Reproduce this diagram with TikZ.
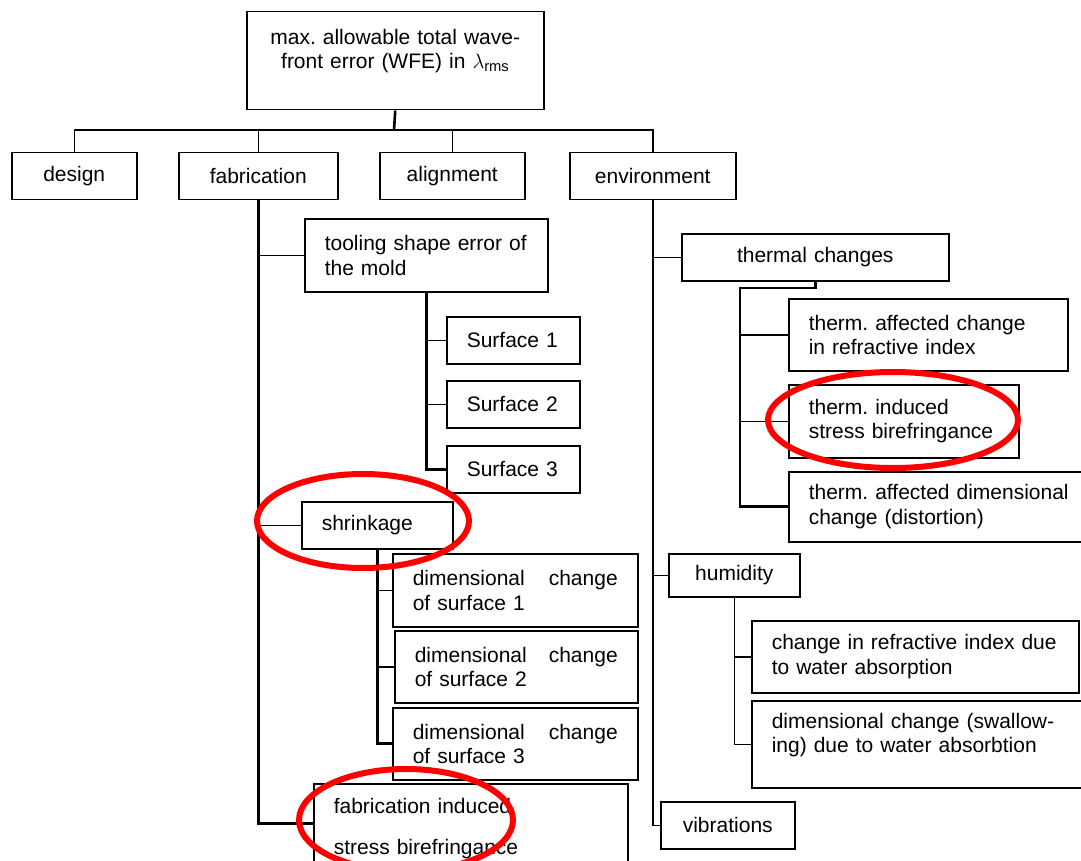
\documentclass[tikz,border=0pt]{standalone}
\usepackage{fontspec}
\setmainfont{Liberation Sans}
\frenchspacing
\begin{document}
\begin{tikzpicture}[x=1pt, y=-1pt,
    box/.style={draw, line width=1.5pt, anchor=north west, inner ysep=0pt, inner xsep=20pt,
        align=left, font=\fontsize{21pt}{24.5pt}\selectfont},
    cbox/.style={box, align=center},
    link/.style={line width=1.5pt},
    trunk/.style={line width=2.6pt},
    circled/.style={red, line width=6pt}]
    \useasboundingbox (0,0) rectangle (1081,861);
    \clip (0,0) rectangle (1081,861);

    % top level
    \node[cbox, minimum width=297pt, minimum height=98pt, text width=257pt, text depth=48pt] (root) at (246,11)
        {max. allowable total wave-\\front error (WFE) in $\lambda$\textsubscript{rms}};
    \node[cbox, minimum width=125pt, minimum height=47pt, text width=85pt] (design) at (11,152) {design};
    \node[cbox, minimum width=159pt, minimum height=47pt, text width=119pt] (fab) at (178,152) {fabrication};
    \node[cbox, minimum width=145pt, minimum height=47pt, text width=105pt] (align) at (379,152) {alignment};
    \node[cbox, minimum width=166pt, minimum height=47pt, text width=126pt] (env) at (569,152) {environment};
    \coordinate (bus) at (394,130);

    % fabrication branch
    \node[box, minimum width=243pt, minimum height=73pt, text width=203pt] (tool) at (304,218)
        {tooling shape error of\\the mold};
    \node[box, minimum width=133pt, minimum height=47pt, text width=93pt] (surf1) at (446,316) {Surface 1};
    \node[box, minimum width=133pt, minimum height=47pt, text width=93pt] (surf2) at (446,380) {Surface 2};
    \node[box, minimum width=133pt, minimum height=47pt, text width=93pt] (surf3) at (446,445) {Surface 3};
    \node[box, minimum width=151pt, minimum height=47pt, text width=111pt] (shrink) at (301,501) {shrinkage};
    \node[box, minimum width=245pt, minimum height=73pt, text width=205pt] (dim1) at (392,553)
        {dimensional\hfill change\\of surface 1};
    \node[box, minimum width=243pt, minimum height=72pt, text width=203pt] (dim2) at (394,630)
        {dimensional\hfill change\\of surface 2};
    \node[box, minimum width=245pt, minimum height=72pt, text width=205pt] (dim3) at (392,707)
        {dimensional\hfill change\\of surface 3};
    \node[box, minimum width=314pt, minimum height=80pt, text width=274pt, text height=25pt] (fabind) at (313,783)
        {fabrication induced\\[17pt]stress birefringance};

    % environment branch
    \node[cbox, minimum width=267pt, minimum height=47pt, text width=227pt] (therm) at (681,233) {thermal changes};
    \node[box, minimum width=279pt, minimum height=72pt, text width=239pt] (therm1) at (788,298)
        {therm. affected change\\in refractive index};
    \node[box, minimum width=230pt, minimum height=73pt, text width=190pt] (therm2) at (788,384)
        {therm. induced\\stress birefringance};
    \node[box, minimum width=320pt, minimum height=70pt, text width=280pt] (therm3) at (788,471)
        {therm. affected dimensional\\change (distortion)};
    \coordinate (tk) at (740,288);
    \node[cbox, minimum width=131pt, minimum height=43pt, text width=91pt] (hum) at (668,553) {humidity};
    \node[box, minimum width=327pt, minimum height=72pt, text width=287pt] (hum1) at (751,620)
        {change in refractive index due\\to water absorption};
    \node[box, minimum width=360pt, minimum height=87pt, text width=320pt, text depth=47pt] (hum2) at (751,700)
        {dimensional change (swallow-\\ing) due to water absorbtion};
    \node[cbox, minimum width=134pt, minimum height=47pt, text width=94pt] (vib) at (660,801) {vibrations};

    % connectors
    \draw[trunk] (root.south) -- (bus);
    \draw[link] (design.north) |- (bus) -- (bus -| env.north) -- (env.north);
    \draw[link] (fab.north) -- (fab.north |- bus);
    \draw[link] (align.north) -- (align.north |- bus);

    \draw[trunk] (fab.south) |- (fabind.west);
    \draw[link] (fab.south |- tool.west) -- (tool.west);
    \draw[link] (fab.south |- shrink.west) -- (shrink.west);
    \draw[trunk] (tool.south) |- (surf3.west);
    \draw[link] (tool.south |- surf1.west) -- (surf1.west);
    \draw[link] (tool.south |- surf2.west) -- (surf2.west);
    \draw[trunk] (shrink.south) |- (dim3.west);
    \draw[link] (shrink.south |- dim1.west) -- (dim1.west);
    \draw[link] (shrink.south |- dim2.west) -- (dim2.west);

    \draw[link] (env.south) |- (vib.west);
    \draw[link] (env.south |- therm.west) -- (therm.west);
    \draw[link] (env.south |- hum.west) -- (hum.west);
    \draw[trunk] (therm.south) |- (tk) |- (therm3.west);
    \draw[link] (tk |- therm1.west) -- (therm1.west);
    \draw[link] (tk |- therm2.west) -- (therm2.west);
    \draw[link] (hum.south) |- (hum2.west);
    \draw[link] (hum.south |- hum1.west) -- (hum1.west);

    % red marks
    \draw[circled] (363,521) ellipse [x radius=106pt, y radius=47pt];
    \draw[circled] (893,420) ellipse [x radius=125pt, y radius=48pt];
    \draw[circled] (406,820) ellipse [x radius=107pt, y radius=51pt];
\end{tikzpicture}
\end{document}
